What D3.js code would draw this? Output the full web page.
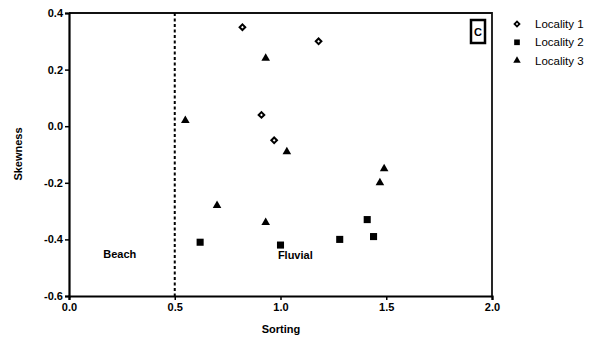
<!DOCTYPE html>
<html>
<head>
<meta charset="utf-8">
<script src="https://cdn.jsdelivr.net/npm/d3@7"></script>
<style>
  body { margin: 0; background: #fff; }
  text { font-family: "Liberation Sans", Arial, sans-serif; }
</style>
</head>
<body>
<script>
var w = 590;
var h = 339;

// values
var loc1 = [[0.82, 0.35], [1.18, 0.30], [0.91, 0.04], [0.97, -0.05]];
var loc2 = [[0.62, -0.41], [1.00, -0.42], [1.28, -0.40], [1.41, -0.33], [1.44, -0.39]];
var loc3 = [[0.55, 0.02], [0.93, 0.24], [1.03, -0.09], [0.70, -0.28], [0.93, -0.34], [1.47, -0.20], [1.49, -0.15]];
var seriesNames = ["Locality 1", "Locality 2", "Locality 3"];
var xTicks = [0, 0.5, 1.0, 1.5, 2.0];
var yTicks = [0.4, 0.2, 0.0, -0.2, -0.4, -0.6];

var svg = d3.select("body")
            .append("svg")
              .attr("width", w)
              .attr("height", h);

var x = d3.scaleLinear().domain([0, 2]).range([69, 492]);
var y = d3.scaleLinear().domain([-0.6, 0.4]).range([296, 13]);

// frame (top + right lines)
svg.append("path")
  .attr("d", "M" + x(0) + "," + y(0.4) + "H" + x(2) + "V" + y(-0.6))
  .attr("fill", "none")
  .attr("stroke", "#111")
  .attr("stroke-width", 1.8);

var xAxis = svg.append("g")
  .attr("transform", "translate(0," + y(-0.6) + ")")
  .call(d3.axisBottom(x).tickValues(xTicks).tickFormat(d3.format(".1f")).tickSize(4).tickPadding(3));

var yAxis = svg.append("g")
  .attr("transform", "translate(" + x(0) + ",0)")
  .call(d3.axisLeft(y).tickValues(yTicks).tickFormat(function(d) { return d3.format(".1f")(d).replace("−", "-"); }).tickSize(4).tickPadding(2));

[xAxis, yAxis].forEach(function(a) {
  a.select(".domain").attr("stroke", "#000").attr("stroke-width", 2.2);
  a.selectAll(".tick line").attr("stroke", "#000").attr("stroke-width", 1.5);
  a.selectAll(".tick text")
    .style("font-family", "'Liberation Sans', Arial, sans-serif")
    .style("font-size", "11px")
    .style("font-weight", "bold")
    .attr("fill", "#000");
});

// dashed boundary at sorting = 0.5
svg.append("line")
  .attr("x1", x(0.5)).attr("x2", x(0.5))
  .attr("y1", y(0.4)).attr("y2", y(-0.6))
  .attr("stroke", "#000")
  .attr("stroke-width", 2)
  .attr("stroke-dasharray", "3,2.5");

// axis titles
svg.append("text")
  .text("Sorting")
  .attr("x", 281).attr("y", 333)
  .attr("text-anchor", "middle")
  .style("font-size", "11px").style("font-weight", "bold").attr("fill", "#000");

svg.append("text")
  .text("Skewness")
  .attr("transform", "translate(22,154) rotate(-90)")
  .attr("text-anchor", "middle")
  .style("font-size", "11px").style("font-weight", "bold").attr("fill", "#000");

// region labels
svg.append("text").text("Beach")
  .attr("x", x(0.24)).attr("y", y(-0.465))
  .attr("text-anchor", "middle")
  .style("font-size", "11px").style("font-weight", "bold").attr("fill", "#000");
svg.append("text").text("Fluvial")
  .attr("x", x(1.07)).attr("y", y(-0.47))
  .attr("text-anchor", "middle")
  .style("font-size", "11px").style("font-weight", "bold").attr("fill", "#000");

// panel letter
svg.append("rect")
  .attr("x", 471).attr("y", 20).attr("width", 14).attr("height", 23)
  .attr("fill", "none").attr("stroke", "#000").attr("stroke-width", 2.5);
svg.append("text").text("C")
  .attr("x", 478).attr("y", 36)
  .attr("text-anchor", "middle")
  .style("font-size", "11px").style("font-weight", "bold").attr("fill", "#000");

var diamond = d3.symbol().type(d3.symbolSquare).size(16);
var square = d3.symbol().type(d3.symbolSquare).size(50);
var triangle = d3.symbol().type(d3.symbolTriangle).size(32);

svg.selectAll(".l1")
  .data(loc1)
  .enter()
  .append("path")
    .attr("class", "l1")
    .attr("d", diamond)
    .attr("transform", function(d) { return "translate(" + x(d[0]) + "," + y(d[1]) + ") rotate(45)"; })
    .attr("fill", "#fff")
    .attr("stroke", "#000")
    .attr("stroke-width", 2);

svg.selectAll(".l2")
  .data(loc2)
  .enter()
  .append("path")
    .attr("class", "l2")
    .attr("d", square)
    .attr("transform", function(d) { return "translate(" + x(d[0]) + "," + y(d[1]) + ")"; })
    .attr("fill", "#000");

svg.selectAll(".l3")
  .data(loc3)
  .enter()
  .append("path")
    .attr("class", "l3")
    .attr("d", triangle)
    .attr("transform", function(d) { return "translate(" + x(d[0]) + "," + y(d[1]) + ")"; })
    .attr("fill", "#000");

// legend
var legSyms = [
  d3.symbol().type(d3.symbolSquare).size(12),
  d3.symbol().type(d3.symbolSquare).size(32),
  d3.symbol().type(d3.symbolTriangle).size(24)
];
var leg = svg.selectAll(".leg")
  .data(seriesNames)
  .enter()
  .append("g")
    .attr("class", "leg")
    .attr("transform", function(d, i) { return "translate(517," + (24 + i * 18.3) + ")"; });

leg.append("path")
  .attr("d", function(d, i) { return legSyms[i](); })
  .attr("transform", function(d, i) { return i == 0 ? "rotate(45)" : null; })
  .attr("fill", function(d, i) { return i == 0 ? "#fff" : "#000"; })
  .attr("stroke", function(d, i) { return i == 0 ? "#000" : "none"; })
  .attr("stroke-width", 1.8);

leg.append("text")
  .text(function(d) { return d; })
  .attr("x", 18)
  .attr("y", 4)
  .style("font-size", "11.5px")
  .attr("fill", "#000");
</script>
</body>
</html>
